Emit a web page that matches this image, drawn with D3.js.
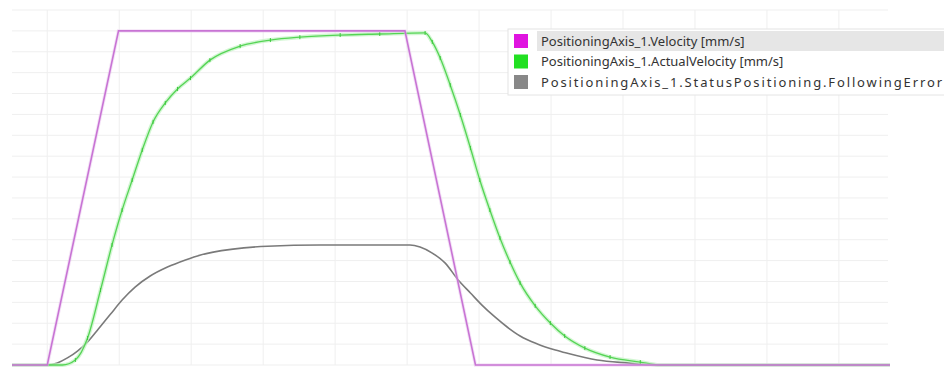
<!DOCTYPE html>
<html>
<head>
<meta charset="utf-8">
<script src="https://cdn.jsdelivr.net/npm/d3@7"></script>
<style>
  html, body { margin: 0; padding: 0; background: #fff; }
  svg { display: block; }
</style>
</head>
<body>
<script>
// time in ms, values in mm/s (following error drawn on the same scale)
const velocityT = [-49, 0, 99, 497, 595, 1171]
const velocityV = [0, 0, 160, 160, 0, 0]

const actualT = [-49, 21, 39, 56, 74, 90, 104, 118, 132, 147, 164, 181, 199, 226, 268, 310, 351, 407, 462, 525,
    535, 546, 560, 574, 588, 601, 615, 629, 643, 657, 678, 699, 719, 747, 782, 824, 851, 1171]
const actualV = [0, 0, 2.4, 12.9, 35.9, 57.5, 74.2, 88.6, 103, 116.4, 125.5, 132.2, 137.4, 146, 152.7, 155.6, 157, 158, 158.5, 159,
    154.7, 147, 134, 119.7, 103.9, 88.6, 74.2, 60.8, 49.3, 39.3, 28.3, 20.1, 13.9, 8.1, 3.8, 1.4, 0, 0]

const errorT = [-49, 0, 14, 28, 42, 56, 71, 88, 104, 122, 143, 167, 192, 213, 258, 306, 379, 504,
    518, 535, 553, 571, 588, 604, 622, 639, 657, 681, 706, 722, 764, 806, 847, 1171]
const errorV = [0, 0, 1, 3.4, 6.7, 11, 17.2, 24.4, 31.1, 37.3, 42.6, 46.9, 50.3, 52.7, 55.5, 56.9, 57.5, 57.5,
    56.5, 53.6, 48.8, 40.7, 34.5, 28.7, 23, 18.2, 13.9, 10.1, 7.2, 5.7, 2.4, 1, 0, 0]

const legendLabels = [
    "PositioningAxis_1.Velocity [mm/s]",
    "PositioningAxis_1.ActualVelocity [mm/s]",
    "PositioningAxis_1.StatusPositioning.FollowingError"
]
const xTicks = d3.range(0, 1200, 100)
const yTicks = d3.range(0, 180, 10)

const width = 944, height = 367
const ivp = {x: 12, y: 10, w: 890, h: 365}

const svg = d3.select("body")
    .append("svg")
    .attr("width", width)
    .attr("height", height)

const xScale = d3.scaleLinear().domain([-49, 1171]).range([ivp.x, ivp.w])
const yScale = d3.scaleLinear().domain([0, 170]).range([ivp.h, ivp.y])

// grid
svg.append("g")
    .selectAll("line")
    .data(yTicks)
    .enter()
    .append("line")
    .attr("x1", ivp.x).attr("x2", ivp.w - 2)
    .attr("y1", d => yScale(d)).attr("y2", d => yScale(d))
    .attr("stroke", "#efefef")
    .attr("stroke-width", 1)

svg.append("g")
    .selectAll("line")
    .data(xTicks)
    .enter()
    .append("line")
    .attr("x1", d => xScale(d)).attr("x2", d => xScale(d))
    .attr("y1", ivp.y).attr("y2", ivp.h)
    .attr("stroke", "#efefef")
    .attr("stroke-width", 1)

const zip = (ts, vs) => ts.map((t, i) => [t, vs[i]])

const line = d3.line()
    .x(d => xScale(d[0]))
    .y(d => yScale(d[1]))

const smooth = d3.line()
    .x(d => xScale(d[0]))
    .y(d => yScale(d[1]))
    .curve(d3.curveMonotoneX)

// following error
svg.append("path")
    .attr("d", smooth(zip(errorT, errorV)))
    .attr("fill", "none")
    .attr("stroke", "#7a7a7a")
    .attr("stroke-width", 1.6)

// actual velocity with glow + sample ticks
const actual = zip(actualT, actualV)
svg.append("path")
    .attr("d", smooth(actual))
    .attr("fill", "none")
    .attr("stroke", "#bff2bf")
    .attr("stroke-width", 4)
    .attr("opacity", 0.7)
svg.append("path")
    .attr("d", smooth(actual))
    .attr("fill", "none")
    .attr("stroke", "#55d455")
    .attr("stroke-width", 1.3)
svg.append("g")
    .selectAll("line")
    .data(actual.filter(d => d[1] > 0.5))
    .enter()
    .append("line")
    .attr("x1", d => xScale(d[0])).attr("x2", d => xScale(d[0]))
    .attr("y1", d => yScale(d[1]) - 2).attr("y2", d => yScale(d[1]) + 2)
    .attr("stroke", "#3cc83c")
    .attr("stroke-width", 1)

// commanded velocity
svg.append("path")
    .attr("d", line(zip(velocityT, velocityV)))
    .attr("fill", "none")
    .attr("stroke", "#e7c2ee")
    .attr("stroke-width", 3.5)
    .attr("opacity", 0.45)
svg.append("path")
    .attr("d", line(zip(velocityT, velocityV)))
    .attr("fill", "none")
    .attr("stroke", "#c874d4")
    .attr("stroke-width", 1.6)

// legend
const legend = svg.append("g")
const colors = ["#e014e0", "#22e022", "#888888"]
const rowY = i => 41 + i * 20.5

legend.append("rect")
    .attr("x", 508).attr("y", 29)
    .attr("width", 440).attr("height", 66)
    .attr("fill", "#ffffff")
    .attr("stroke", "#e4e4e4")

legend.append("rect")
    .attr("x", 537).attr("y", rowY(0) - 10)
    .attr("width", 410).attr("height", 20)
    .attr("fill", "#e6e6e6")

legend.selectAll(".sw")
    .data(legendLabels)
    .enter()
    .append("rect")
    .attr("x", 514)
    .attr("y", (d, i) => rowY(i) - 7)
    .attr("width", 14).attr("height", 14)
    .attr("fill", (d, i) => colors[i])

legend.selectAll(".lbl")
    .data(legendLabels)
    .enter()
    .append("text")
    .attr("x", 541)
    .attr("y", (d, i) => rowY(i) + 4.5)
    .attr("font-family", "'Segoe UI', 'Noto Sans', 'Open Sans', sans-serif")
    .attr("font-size", 13)
    .attr("fill", "#333")
    .attr("textLength", (d, i) => i === 2 ? 401 : null)
    .attr("lengthAdjust", "spacing")
    .text(d => d)
</script>
</body>
</html>
